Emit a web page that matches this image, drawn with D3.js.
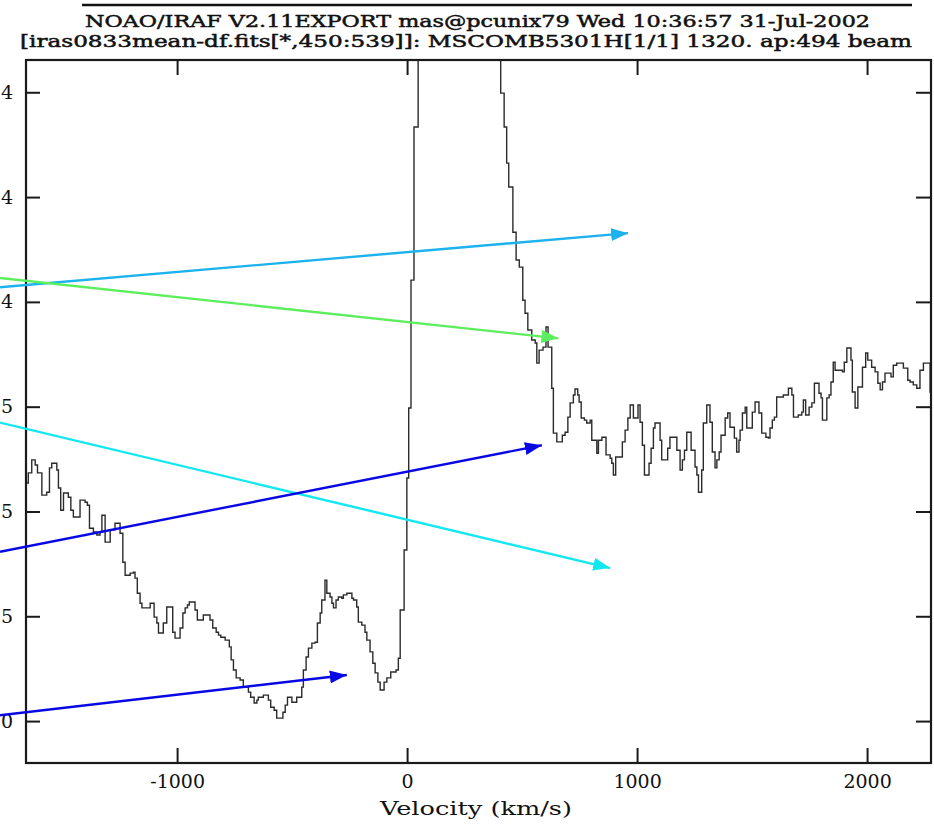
<!DOCTYPE html>
<html>
<head>
<meta charset="utf-8">
<script src="https://cdn.jsdelivr.net/npm/d3@7"></script>
<style>
    body { margin: 0; background: #fff; }
    svg { display: block; }
    .axis text { font-family: "DejaVu Serif", serif; font-size: 19px; fill: #111; }
    .axis .domain { display: none; }
    .axis line { stroke: #1a1a1a; stroke-width: 2; }
</style>
</head>
<body>
<div id="chart"></div>
<script>
// spectrum (velocity in km/s, flux in units of 1e-15)
const velocity = [
    -1657, -1647, -1632, -1617, -1607, -1588, -1567, -1555, -1545, -1523,
    -1516, -1506, -1494, -1473, -1462, -1451, -1422, -1400, -1390, -1381,
    -1364, -1349, -1335, -1327, -1313, -1291, -1270, -1248, -1236, -1226,
    -1204, -1190, -1183, -1173, -1161, -1153, -1117, -1100, -1088, -1081,
    -1060, -1045, -1019, -1009, -987, -975, -965, -955, -947, -922,
    -912, -886, -857, -845, -830, -820, -810, -791, -773, -765,
    -755, -743, -726, -712, -690, -680, -665, -653, -647, -625,
    -603, -593, -578, -567, -540, -530, -520, -501, -480, -458,
    -451, -439, -429, -414, -400, -390, -378, -371, -357, -349,
    -335, -327, -320, -309, -299, -284, -277, -262, -240, -233,
    -219, -212, -197, -183, -175, -161, -149, -139, -127, -117,
    -100, -88, -71, -48, -38, -30, -13, -1, 7, 17,
    30, 48, 407, 422, 433, 442, 460, 474, 488, 503,
    513, 525, 542, 557, 564, 574, 591, 604, 613, 629,
    636, 651, 675, 687, 699, 709, 723, 730, 742, 748,
    757, 771, 781, 796, 803, 825, 832, 847, 865, 883,
    890, 897, 907, 936, 948, 960, 970, 984, 1004, 1013,
    1023, 1032, 1052, 1061, 1071, 1078, 1100, 1107, 1133, 1143,
    1173, 1187, 1197, 1206, 1216, 1235, 1252, 1260, 1267, 1281,
    1288, 1303, 1317, 1327, 1339, 1347, 1357, 1365, 1383, 1394,
    1404, 1423, 1433, 1443, 1448, 1458, 1470, 1477, 1501, 1513,
    1530, 1542, 1560, 1571, 1578, 1588, 1597, 1607, 1636, 1658,
    1673, 1680, 1701, 1716, 1723, 1733, 1748, 1760, 1771, 1791,
    1800, 1806, 1825, 1835, 1843, 1853, 1861, 1893, 1901, 1912,
    1930, 1936, 1948, 1960, 1980, 1994, 2003, 2020, 2035, 2047,
    2057, 2067, 2078, 2104, 2114, 2129, 2158, 2177, 2187, 2201,
    2216, 2230, 2245, 2274, 2291
];
const flux = [
    5.68, 5.92, 6.23, 6.11, 5.92, 5.39, 5.46, 6.04, 6.15, 5.99,
    5.56, 5.03, 5.44, 5.34, 5.03, 4.87, 5.27, 5.22, 5.15, 4.60,
    4.51, 4.44, 4.51, 4.91, 4.27, 4.56, 4.72, 4.48, 3.79, 3.48,
    3.53, 3.55, 3.41, 3.05, 2.81, 2.70, 2.81, 2.48, 2.34, 2.10,
    2.34, 2.72, 2.12, 1.98, 2.22, 2.58, 2.70, 2.77, 2.84, 2.65,
    2.41, 2.53, 2.41, 2.22, 2.12, 2.05, 2.00, 1.93, 1.77, 1.46,
    1.22, 1.03, 0.98, 0.81, 0.69, 0.57, 0.43, 0.50, 0.57, 0.62,
    0.50, 0.33, 0.26, 0.07, 0.21, 0.38, 0.57, 0.45, 0.57, 0.81,
    1.22, 1.53, 1.74, 1.86, 1.88, 2.34, 2.58, 2.89, 3.36, 3.05,
    2.96, 2.81, 2.70, 2.89, 2.96, 2.93, 3.01, 3.05, 2.93, 2.89,
    2.72, 2.36, 2.29, 2.12, 1.93, 1.65, 1.38, 1.15, 0.93, 0.74,
    0.93, 1.03, 1.17, 1.22, 1.50, 2.65, 4.08, 5.80, 7.47, 10.52,
    14.17, 20.8, 14.98, 14.17, 13.31, 12.74, 11.66, 11.00, 10.83, 10.04,
    9.73, 9.33, 9.09, 9.02, 8.54, 8.85, 8.92, 9.40, 8.92, 7.94,
    6.87, 6.66, 6.82, 6.89, 7.25, 7.59, 7.78, 7.92, 7.78, 7.61,
    7.23, 7.18, 7.11, 7.18, 6.70, 6.39, 6.70, 6.77, 6.35, 6.27,
    6.15, 5.87, 6.30, 6.66, 6.94, 7.23, 7.54, 7.23, 7.54, 7.13,
    6.58, 5.87, 6.15, 6.51, 6.99, 7.11, 6.70, 6.23, 6.51, 6.77,
    6.46, 5.99, 6.23, 6.46, 6.89, 6.46, 6.06, 5.87, 5.46, 5.99,
    7.11, 7.54, 7.13, 6.42, 6.04, 6.23, 6.42, 6.82, 7.23, 7.35,
    7.01, 6.75, 6.42, 6.70, 6.94, 7.35, 7.49, 6.99, 7.37, 7.61,
    7.35, 6.87, 6.77, 6.75, 6.99, 7.18, 7.25, 7.73, 7.78, 7.94,
    7.78, 7.25, 7.30, 7.37, 7.66, 7.30, 7.49, 7.59, 8.06, 7.82,
    7.71, 7.18, 7.71, 7.78, 8.09, 8.56, 8.37, 8.33, 8.56, 8.90,
    8.61, 7.85, 7.47, 7.97, 8.44, 8.78, 8.61, 8.44, 8.33, 8.06,
    7.90, 8.09, 8.30, 8.21, 8.49, 8.54, 8.42, 8.13, 8.09, 8.02,
    7.94, 8.37, 8.54, 7.85, 7.85
];

const xDomain = [-1657, 2278];
const yDomain = [-1.0, 15.77];
const xTicks = [-1000, 0, 1000, 2000];
const yTicks = [0, 2.5, 5, 7.5, 10, 12.5, 15];
// only the last character of each y label survives the crop of the original plot
const yTickLabels = ["0", "5", "5", "5", "4", "4", "4"];

const titleLines = [
    "NOAO/IRAF V2.11EXPORT mas@pcunix79 Wed 10:36:57 31-Jul-2002",
    "[iras0833mean-df.fits[*,450:539]]: MSCOMB5301H[1/1] 1320. ap:494 beam"
];
const xLabel = "Velocity (km/s)";

// annotation arrows (tail -> head), in velocity / flux units
const arrowFrom = [[-1770, 10.35], [-1770, 10.57], [-1770, 7.12], [-1770, 4.04], [-1770, 0.14]];
const arrowTo = [[961, 11.64], [658, 9.13], [883, 3.65], [586, 6.58], [-262, 1.10]];
const arrowColors = ["#1cb2ee", "#5cee5c", "#12e8f0", "#0808e4", "#0808e4"];


class SpectrumVis {
    constructor(parentElement) {
        this.parentElement = parentElement;
        this.initVis();
    }

    initVis() {
        let vis = this;

        vis.width = 934;
        vis.height = 825;
        vis.box = {left: 26, right: 931, top: 60, bottom: 763};

        vis.svg = d3.select("#" + vis.parentElement).append("svg")
            .attr("width", vis.width)
            .attr("height", vis.height);

        vis.x = d3.scaleLinear().domain(xDomain).range([vis.box.left, vis.box.right]);
        vis.y = d3.scaleLinear().domain(yDomain).range([vis.box.bottom, vis.box.top]);

        let defs = vis.svg.append("defs");
        defs.append("clipPath").attr("id", "plotClip")
            .append("rect")
            .attr("x", vis.box.left)
            .attr("y", vis.box.top)
            .attr("width", vis.box.right - vis.box.left)
            .attr("height", vis.box.bottom - vis.box.top);

        // one arrowhead marker per colour
        arrowColors.forEach((c, i) => {
            defs.append("marker")
                .attr("id", "head" + i)
                .attr("viewBox", "0 0 17 13")
                .attr("refX", 17)
                .attr("refY", 6.5)
                .attr("markerWidth", 17)
                .attr("markerHeight", 13)
                .attr("markerUnits", "userSpaceOnUse")
                .attr("orient", "auto")
                .append("path")
                .attr("d", "M0,0 L17,6.5 L0,13 Z")
                .attr("fill", c);
        });

        vis.wrangleData();
    }

    wrangleData() {
        let vis = this;
        vis.displayData = velocity.map((v, i) => ({v: v, f: flux[i]}));
        vis.updateVis();
    }

    updateVis() {
        let vis = this;

        // header lines
        vis.svg.append("line")
            .attr("x1", 82).attr("x2", 912)
            .attr("y1", 5).attr("y2", 5)
            .attr("stroke", "#111")
            .attr("stroke-width", 2.5);

        vis.svg.selectAll(".title")
            .data(titleLines)
            .enter()
            .append("text")
            .attr("class", "title")
            .attr("x", (d, i) => i === 0 ? 85 : 20)
            .attr("y", (d, i) => i === 0 ? 27 : 47)
            .attr("textLength", (d, i) => i === 0 ? 785 : 892)
            .attr("lengthAdjust", "spacingAndGlyphs")
            .style("font-family", "'DejaVu Serif', serif")
            .style("font-size", "17px")
            .style("fill", "#111")
            .style("stroke", "#111")
            .style("stroke-width", 0.5)
            .text(d => d);

        // spectrum as a histogram-style step line
        let line = d3.line()
            .x(d => vis.x(d.v))
            .y(d => vis.y(d.f))
            .curve(d3.curveStepAfter);

        vis.svg.append("path")
            .datum(vis.displayData)
            .attr("clip-path", "url(#plotClip)")
            .attr("d", line)
            .attr("fill", "none")
            .attr("stroke", "#2b2b2b")
            .attr("stroke-width", 1.4);

        // axes, all ticks pointing inward
        vis.svg.append("g")
            .attr("class", "axis")
            .attr("transform", `translate(${vis.box.left},0)`)
            .call(d3.axisLeft(vis.y).tickValues(yTicks).tickSize(-14).tickPadding(13)
                .tickFormat((d, i) => yTickLabels[i]));

        vis.svg.append("g")
            .attr("class", "axis")
            .attr("transform", `translate(${vis.box.right},0)`)
            .call(d3.axisRight(vis.y).tickValues(yTicks).tickSize(-15).tickFormat(""));

        vis.svg.append("g")
            .attr("class", "axis")
            .attr("transform", `translate(0,${vis.box.bottom})`)
            .call(d3.axisBottom(vis.x).tickValues(xTicks).tickSize(-15).tickPadding(12)
                .tickFormat(d => String(d)));

        vis.svg.append("g")
            .attr("class", "axis")
            .attr("transform", `translate(0,${vis.box.top})`)
            .call(d3.axisTop(vis.x).tickValues(xTicks).tickSize(-15).tickFormat(""));

        // frame
        vis.svg.append("rect")
            .attr("x", vis.box.left)
            .attr("y", vis.box.top)
            .attr("width", vis.box.right - vis.box.left)
            .attr("height", vis.box.bottom - vis.box.top)
            .attr("fill", "none")
            .attr("stroke", "#1a1a1a")
            .attr("stroke-width", 2.2);

        // x axis title
        vis.svg.append("text")
            .attr("x", 380)
            .attr("y", 815)
            .attr("textLength", 192)
            .attr("lengthAdjust", "spacingAndGlyphs")
            .style("font-family", "'DejaVu Serif', serif")
            .style("font-size", "19px")
            .style("fill", "#111")
            .text(xLabel);

        // annotation arrows
        vis.svg.selectAll(".arrow")
            .data(arrowFrom)
            .enter()
            .append("line")
            .attr("class", "arrow")
            .attr("x1", d => vis.x(d[0]))
            .attr("y1", d => vis.y(d[1]))
            .attr("x2", (d, i) => vis.x(arrowTo[i][0]))
            .attr("y2", (d, i) => vis.y(arrowTo[i][1]))
            .attr("stroke", (d, i) => arrowColors[i])
            .attr("stroke-width", 2.4)
            .attr("marker-end", (d, i) => `url(#head${i})`);
    }
}

new SpectrumVis("chart");
</script>
</body>
</html>
